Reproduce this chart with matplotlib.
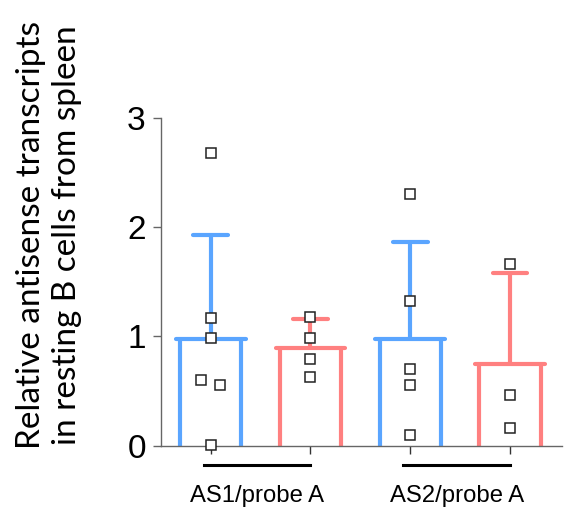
import matplotlib

matplotlib.use("Agg")
import matplotlib.pyplot as plt

# valores
grupos = ["AS1/probe A", "AS2/probe A"]
medias = [0.98, 0.89, 0.976, 0.75]
topo_erro = [1.93, 1.16, 1.86, 1.58]
pontos = [
    [2.675, 1.166, 0.988, 0.60, 0.555, 0.006],
    [1.175, 0.988, 0.793, 0.626],
    [2.30, 1.327, 0.70, 0.555, 0.098],
    [1.66, 0.464, 0.165],
]
# deslocamento horizontal dos pontos (jitter)
desloc = [
    [0, 0, 0, -0.1, 0.093, 0],
    [0, 0, 0, 0],
    [0, 0, 0, 0, 0],
    [0, 0, 0],
]
yticks = [0, 1, 2, 3]

AZUL = "#5AA5FF"
VERMELHO = "#FF8080"
CORES = [AZUL, VERMELHO, AZUL, VERMELHO]
CINZA = "#666666"

fig = plt.figure(figsize=(5.67, 5.29), dpi=100)
ax = fig.add_axes([0.284, 0.1575, 0.707, 0.62])

meia = 0.306
lw = 3.0
for i, (m, e, cor) in enumerate(zip(medias, topo_erro, CORES)):
    kw = dict(color=cor, lw=lw, solid_capstyle="round", zorder=2)
    ax.plot([i - meia, i - meia], [0, m], **kw)
    ax.plot([i + meia, i + meia], [0, m], **kw)
    ax.plot([i - 0.35, i + 0.35], [m, m], **kw)
    ax.plot([i, i], [m, e], **kw)
    ax.plot([i - 0.175, i + 0.175], [e, e], **kw)

for i, (ys, dx) in enumerate(zip(pontos, desloc)):
    ax.plot([i + d for d in dx], ys, "s", ms=7, mfc="white", mec="#222222",
            mew=1.1, zorder=3, clip_on=False)

ax.set_xlim(-0.498, 3.52)
ax.set_ylim(0, 3)
ax.set_yticks(yticks)
ax.set_yticklabels([str(t) for t in yticks], fontsize=24, family="Liberation Sans")
ax.set_xticks([0, 1, 2, 3])
ax.set_xticklabels([])
ax.tick_params(axis="y", length=6, width=1, color=CINZA, pad=5)
ax.tick_params(axis="x", length=6, width=1, color="#333333")
for s in ["top", "right"]:
    ax.spines[s].set_visible(False)
for s in ["left", "bottom"]:
    ax.spines[s].set_color(CINZA)
    ax.spines[s].set_linewidth(1)

# linhas pretas sob os grupos e rotulos
for g, nome in enumerate(grupos):
    x0, x1 = 2 * g - 0.07, 2 * g + 1.0
    ax.plot([x0, x1], [-0.18, -0.18], color="black", lw=2.2, clip_on=False)
    ax.text((x0 + x1) / 2, -0.46, nome, ha="center", va="center",
            fontsize=17.2, family="Liberation Sans")

fig.text(0.086, 0.556, "Relative antisense transcripts\nin resting B cells from spleen",
         rotation=90, ha="center", va="center", fontsize=24, family="Lato",
         linespacing=1.25)

fig.savefig("out.png", dpi=100)
